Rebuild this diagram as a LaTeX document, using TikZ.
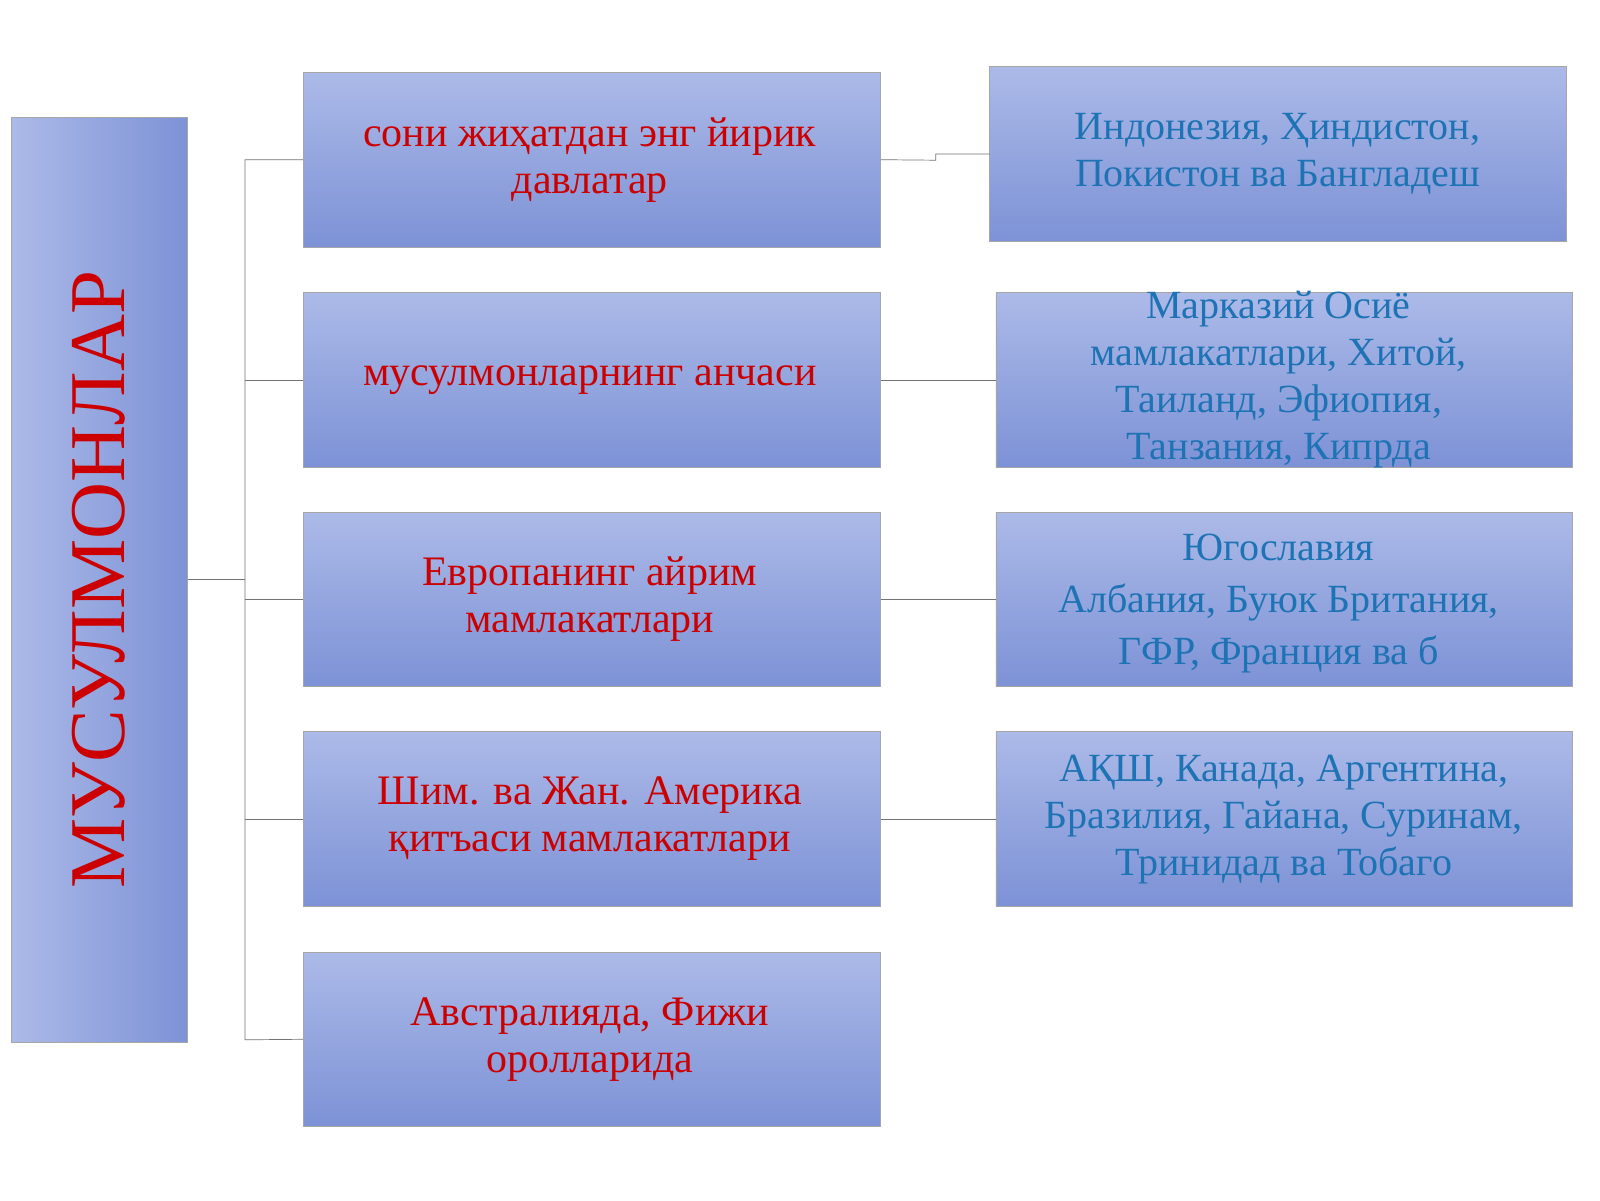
\documentclass[tikz,border=0pt]{standalone}
\usepackage{fontspec}
\setmainfont{Liberation Serif}
\begin{document}
\begin{tikzpicture}[x=1.0204pt,y=-1.0204pt,
 box/.style={draw=black!35,line width=0.8pt,bottom color={rgb,255:red,125;green,146;blue,214},top color={rgb,255:red,172;green,186;blue,232}},
 red/.style={align=center,text={rgb,255:red,204;green,0;blue,0},font=\fontsize{42}{47}\selectfont},
 blu/.style={align=center,text={rgb,255:red,30;green,115;blue,180},font=\fontsize{40}{47}\selectfont},
 ln/.style={draw=black!55,line width=0.7pt}]
\useasboundingbox (0,0) rectangle (1568,1176);
\fill[white] (0,0) rectangle (1568,1176);
\path[draw=black!35,line width=0.8pt,left color={rgb,255:red,172;green,186;blue,232},right color={rgb,255:red,125;green,146;blue,214}] (11,115) rectangle (184,1022);
\node[rotate=90,text={rgb,255:red,204;green,0;blue,0},font=\fontsize{79}{85}\selectfont] (t) at (97,568) {МУСУЛМОНЛАР};
\coordinate (L) at (184,568);
\foreach \i/\ya/\yb/\txt in {1/71/242/{сони жиҳатдан энг йирик\\давлатар},2/287/458/{мусулмонларнинг анчаси},3/502/673/{Европанинг айрим\\мамлакатлари},4/717/888/{Шим. ва Жан. Америка\\қитъаси  мамлакатлари},5/933/1104/{Австралияда, Фижи\\оролларида}}{
 \path[box] (297,\ya) rectangle (863,\yb);
 \node[red] (m\i) at (578,{(\ya+\yb)/2}) {\txt};
 \coordinate (mw\i) at (297,{(\ya+\yb)/2});
 \coordinate (me\i) at (863,{(\ya+\yb)/2});
}
\path[box] (970,65) rectangle (1535,237);
\node[blu] (r1) at (1252,151) {Индонезия, Ҳиндистон,\\Покистон ва Бангладеш};
\foreach \i/\ya/\yb/\txt in {2/287/458/{Марказий  Осиё\\мамлакатлари,  Хитой,\\Таиланд,  Эфиопия,\\Танзания,  Кипрда},3/502/673/{Югославия\\Албания,  Буюк  Британия,\\ГФР, Франция ва б},4/717/888/{АҚШ,  Канада, Аргентина,\\Бразилия, Гайана, Суринам,\\Тринидад  ва  Тобаго}}{
 \path[box] (976,\ya) rectangle (1541,\yb);
 \coordinate (rw\i) at (976,{(\ya+\yb)/2});
}
\node[blu] (r2) at (1253,372) {Марказий  Осиё\\мамлакатлари,  Хитой,\\Таиланд,  Эфиопия,\\Танзания,  Кипрда};
\node[blu,font=\fontsize{40}{52}\selectfont] (r3) at (1253,591) {Югославия\\Албания,  Буюк  Британия,\\ГФР, Франция ва б};
\node[blu] (r4) at (1258,803) {АҚШ,  Канада, Аргентина,\\Бразилия, Гайана, Суринам,\\Тринидад  ва  Тобаго};
\draw[ln] (L) -- (240,568);
\draw[ln] (mw1) -| (240,1019) -- (mw5);
\foreach \i in {2,3,4}{\draw[ln] (240,0 |- mw\i) -- (mw\i);}
\draw[ln] (me1) -- (917,157) -- (917,151) -- (970,151);
\foreach \i in {2,3,4}{\draw[ln] (me\i) -- (rw\i);}
\end{tikzpicture}
\end{document}
